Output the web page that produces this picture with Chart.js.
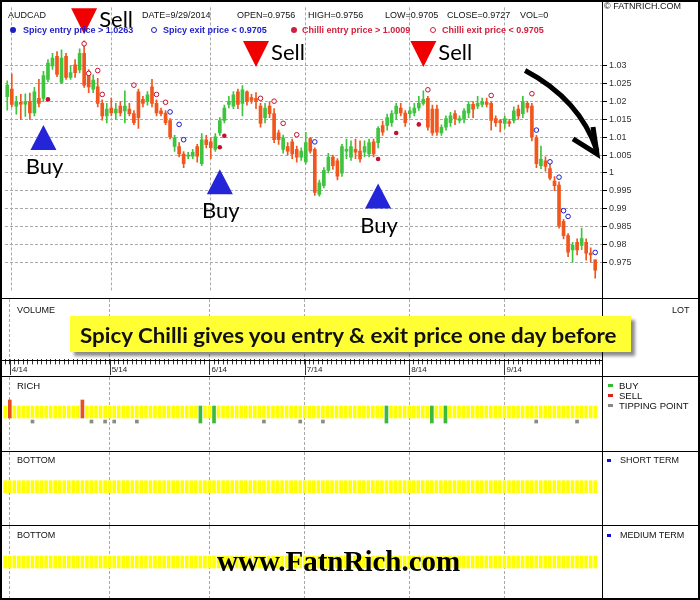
<!DOCTYPE html>
<html>
<head>
<meta charset="utf-8">
<script src="https://cdn.jsdelivr.net/npm/chart.js@4.4.1/dist/chart.umd.min.js"></script>
<style>
  body { margin: 0; background: #fff; }
  #wrap { position: relative; width: 700px; height: 600px; overflow: hidden; background: #fff; font-family: Arial, "Liberation Sans", sans-serif; }
  #wrap canvas { position: absolute; left: 0; }
  .t { position: absolute; white-space: nowrap; line-height: 1; font-size: 9px; color: #111; }
  .lg { font-weight: bold; top: 26px; }
  .ln { position: absolute; background: #000; }
  .sq { position: absolute; width: 5px; height: 3px; }
  .dot { position: absolute; width: 6px; height: 6px; border-radius: 50%; box-sizing: border-box; top: 27px; }
  #callout { position: absolute; left: 70px; top: 316px; width: 561px; height: 36px; background: #ffff33; box-shadow: 4px 4px 3px rgba(0,0,0,0.45); }
  #calloutText { position: absolute; left: 80px; top: 324px; font: bold 21px Lato, "Open Sans", sans-serif; line-height: 1; color: #111; white-space: nowrap; transform-origin: left top; }
  #mark { position: absolute; left: 217px; top: 547px; font: bold 29px "Liberation Serif", "Times New Roman", serif; line-height: 1; color: #000; white-space: nowrap; transform-origin: left top; }
</style>
</head>
<body>
<div id="wrap">
  <canvas id="price" width="700" height="298" style="top:0"></canvas>
  <canvas id="volume" width="700" height="77" style="top:299px"></canvas>
  <canvas id="rich" width="700" height="74" style="top:377px"></canvas>
  <canvas id="bottom1" width="700" height="73" style="top:452px"></canvas>
  <canvas id="bottom2" width="700" height="72" style="top:526px"></canvas>

  <!-- header row -->
  <div class="t" style="left:8px;top:11px">AUDCAD</div>
  <div class="t" id="hDate" style="left:142px;top:11px"></div>
  <div class="t" id="hOpen" style="left:237px;top:11px"></div>
  <div class="t" id="hHigh" style="left:308px;top:11px"></div>
  <div class="t" id="hLow" style="left:385px;top:11px"></div>
  <div class="t" id="hClose" style="left:447px;top:11px"></div>
  <div class="t" style="left:520px;top:11px">VOL=0</div>
  <div class="t" style="left:604px;top:2px">© FATNRICH.COM</div>

  <!-- legend row -->
  <div class="dot" style="left:10px;background:#1c1cc8"></div>
  <div class="t lg" style="left:23px;color:#1c1cc8">Spicy entry price &gt; 1.0263</div>
  <div class="dot" style="left:151px;border:1.3px solid #1c1cc8"></div>
  <div class="t lg" style="left:163px;color:#1c1cc8">Spicy exit price &lt; 0.9705</div>
  <div class="dot" style="left:291px;background:#d0203c"></div>
  <div class="t lg" style="left:302px;color:#d0203c">Chilli entry price &gt; 1.0009</div>
  <div class="dot" style="left:430px;border:1.3px solid #d0203c"></div>
  <div class="t lg" style="left:442px;color:#d0203c">Chilli exit price &lt; 0.9705</div>

  <!-- panel labels -->
  <div class="t" style="left:17px;top:306px">VOLUME</div>
  <div class="t" style="left:672px;top:306px">LOT</div>
  <div class="t" style="left:17px;top:381px;font-size:9.5px">RICH</div>
  <div class="sq" style="left:608px;top:384px;background:#33bb33"></div>
  <div class="t" style="left:619px;top:381px;font-size:9.5px">BUY</div>
  <div class="sq" style="left:608px;top:394px;background:#dd2222"></div>
  <div class="t" style="left:619px;top:391px;font-size:9.5px">SELL</div>
  <div class="sq" style="left:608px;top:404px;background:#888"></div>
  <div class="t" style="left:619px;top:401px;font-size:9.5px">TIPPING POINT</div>
  <div class="t" style="left:17px;top:456px">BOTTOM</div>
  <div class="sq" style="left:607px;top:459px;width:4px;background:#1010d0"></div>
  <div class="t" style="left:620px;top:456px">SHORT TERM</div>
  <div class="t" style="left:17px;top:531px">BOTTOM</div>
  <div class="sq" style="left:607px;top:534px;width:4px;background:#1010d0"></div>
  <div class="t" style="left:620px;top:531px">MEDIUM TERM</div>

  <!-- frame and separators -->
  <div class="ln" style="left:602px;top:0;width:1px;height:600px"></div>
  <div class="ln" style="left:0;top:298px;width:700px;height:1px"></div>
  <div class="ln" style="left:0;top:360px;width:602px;height:1px"></div>
  <div class="ln" style="left:0;top:376px;width:700px;height:1px"></div>
  <div class="ln" style="left:0;top:451px;width:700px;height:1px"></div>
  <div class="ln" style="left:0;top:525px;width:700px;height:1px"></div>
  <div style="position:absolute;left:0;top:0;width:700px;height:600px;border:2px solid #000;box-sizing:border-box"></div>

  <div id="callout"></div>
  <div id="calloutText">Spicy Chilli gives you entry &amp; exit price one day before</div>
  <div id="mark">www.FatnRich.com</div>
</div>

<script>
// daily AUDCAD candles, 31 Mar 2014 .. 29 Sep 2014
const open = [
  1.0214, 1.0235, 1.0187, 1.0198, 1.0193, 1.0200, 1.0168, 1.0209, 1.0209, 1.0262,
  1.0300, 1.0327, 1.0254, 1.0327, 1.0268, 1.0303, 1.0289, 1.0335, 1.0276, 1.0235,
  1.0241, 1.0195, 1.0160, 1.0182, 1.0168, 1.0187, 1.0174, 1.0179, 1.0166, 1.0227,
  1.0206, 1.0200, 1.0241, 1.0195, 1.0174, 1.0168, 1.0147, 1.0074, 1.0074, 1.0053,
  1.0047, 1.0047, 1.0074, 1.0026, 1.0093, 1.0087, 1.0066, 1.0112, 1.0147, 1.0192,
  1.0187, 1.0227, 1.0195, 1.0227, 1.0211, 1.0209, 1.0187, 1.0155, 1.0187, 1.0166,
  1.0112, 1.0066, 1.0074, 1.0087, 1.0066, 1.0044, 1.0031, 1.0096, 1.0066, 0.9940,
  0.9964, 1.0007, 1.0044, 1.0034, 0.9999, 1.0061, 1.0044, 1.0066, 1.0061, 1.0058,
  1.0053, 1.0087, 1.0085, 1.0133, 1.0133, 1.0141, 1.0166, 1.0182, 1.0168, 1.0166,
  1.0168, 1.0182, 1.0195, 1.0209, 1.0179, 1.0179, 1.0112, 1.0128, 1.0141, 1.0166,
  1.0147, 1.0152, 1.0168, 1.0192, 1.0187, 1.0192, 1.0198, 1.0195, 1.0152, 1.0147,
  1.0139, 1.0144, 1.0147, 1.0179, 1.0166, 1.0195, 1.0187, 1.0098, 1.0020, 1.0034,
  1.0012, 0.9977, 0.9966, 0.9864, 0.9824, 0.9784, 0.9805, 0.9797, 0.9805, 0.9775,
  0.9756
];
const high = [
  1.0258, 1.0278, 1.0215, 1.0220, 1.0222, 1.0224, 1.0240, 1.0262, 1.0285, 1.0318,
  1.0335, 1.0340, 1.0345, 1.0335, 1.0300, 1.0318, 1.0348, 1.0370, 1.0290, 1.0275,
  1.0265, 1.0205, 1.0195, 1.0210, 1.0195, 1.0200, 1.0230, 1.0195, 1.0175, 1.0235,
  1.0215, 1.0228, 1.0262, 1.0205, 1.0182, 1.0175, 1.0152, 1.0105, 1.0085, 1.0060,
  1.0058, 1.0066, 1.0080, 1.0110, 1.0105, 1.0098, 1.0110, 1.0155, 1.0190, 1.0215,
  1.0228, 1.0235, 1.0245, 1.0230, 1.0220, 1.0225, 1.0195, 1.0195, 1.0200, 1.0180,
  1.0120, 1.0106, 1.0085, 1.0095, 1.0075, 1.0070, 1.0114, 1.0100, 1.0070, 0.9980,
  1.0015, 1.0055, 1.0050, 1.0040, 1.0080, 1.0095, 1.0090, 1.0095, 1.0090, 1.0090,
  1.0095, 1.0095, 1.0130, 1.0145, 1.0165, 1.0175, 1.0195, 1.0195, 1.0175, 1.0185,
  1.0195, 1.0215, 1.0230, 1.0215, 1.0190, 1.0190, 1.0135, 1.0160, 1.0170, 1.0175,
  1.0160, 1.0180, 1.0200, 1.0200, 1.0215, 1.0210, 1.0210, 1.0200, 1.0160, 1.0150,
  1.0160, 1.0150, 1.0185, 1.0190, 1.0215, 1.0200, 1.0195, 1.0105, 1.0075, 1.0045,
  1.0025, 0.9990, 0.9975, 0.9870, 0.9830, 0.9805, 0.9815, 0.9845, 0.9815, 0.9790,
  0.9756
];
const low = [
  1.0176, 1.0185, 1.0165, 1.0150, 1.0158, 1.0150, 1.0160, 1.0185, 1.0200, 1.0255,
  1.0290, 1.0270, 1.0250, 1.0262, 1.0262, 1.0268, 1.0280, 1.0240, 1.0225, 1.0225,
  1.0185, 1.0148, 1.0140, 1.0160, 1.0150, 1.0160, 1.0140, 1.0160, 1.0135, 1.0125,
  1.0185, 1.0190, 1.0185, 1.0160, 1.0160, 1.0135, 1.0095, 1.0060, 1.0045, 1.0015,
  1.0040, 1.0040, 1.0030, 1.0020, 1.0070, 1.0040, 1.0060, 1.0105, 1.0140, 1.0182,
  1.0180, 1.0180, 1.0160, 1.0190, 1.0195, 1.0180, 1.0128, 1.0140, 1.0155, 1.0085,
  1.0080, 1.0055, 1.0050, 1.0040, 1.0030, 1.0035, 1.0025, 1.0055, 0.9937, 0.9935,
  0.9958, 1.0000, 1.0010, 0.9980, 0.9990, 1.0040, 1.0035, 1.0040, 1.0030, 1.0045,
  1.0045, 1.0045, 1.0070, 1.0105, 1.0120, 1.0130, 1.0150, 1.0160, 1.0130, 1.0155,
  1.0160, 1.0175, 1.0190, 1.0120, 1.0105, 1.0105, 1.0105, 1.0120, 1.0130, 1.0135,
  1.0140, 1.0140, 1.0155, 1.0155, 1.0180, 1.0185, 1.0185, 1.0120, 1.0130, 1.0115,
  1.0125, 1.0130, 1.0140, 1.0150, 1.0155, 1.0170, 1.0090, 1.0015, 1.0012, 1.0005,
  0.9980, 0.9950, 0.9845, 0.9815, 0.9765, 0.9750, 0.9770, 0.9785, 0.9755, 0.9750,
  0.9705
];
const close = [
  1.0246, 1.0192, 1.0200, 1.0193, 1.0200, 1.0168, 1.0227, 1.0195, 1.0273, 1.0308,
  1.0322, 1.0276, 1.0322, 1.0268, 1.0281, 1.0281, 1.0335, 1.0246, 1.0241, 1.0260,
  1.0195, 1.0160, 1.0179, 1.0168, 1.0179, 1.0168, 1.0187, 1.0166, 1.0141, 1.0155,
  1.0195, 1.0219, 1.0195, 1.0168, 1.0166, 1.0141, 1.0101, 1.0098, 1.0053, 1.0026,
  1.0050, 1.0058, 1.0047, 1.0093, 1.0079, 1.0071, 1.0101, 1.0147, 1.0182, 1.0200,
  1.0219, 1.0192, 1.0233, 1.0200, 1.0203, 1.0200, 1.0139, 1.0182, 1.0166, 1.0093,
  1.0093, 1.0098, 1.0061, 1.0053, 1.0044, 1.0061, 1.0085, 1.0061, 0.9945, 0.9972,
  1.0007, 1.0044, 1.0020, 0.9991, 1.0074, 1.0066, 1.0074, 1.0058, 1.0039, 1.0074,
  1.0085, 1.0053, 1.0125, 1.0114, 1.0155, 1.0166, 1.0187, 1.0168, 1.0141, 1.0174,
  1.0182, 1.0195, 1.0206, 1.0128, 1.0112, 1.0114, 1.0128, 1.0152, 1.0160, 1.0152,
  1.0152, 1.0174, 1.0192, 1.0179, 1.0195, 1.0200, 1.0192, 1.0147, 1.0141, 1.0141,
  1.0152, 1.0139, 1.0174, 1.0160, 1.0200, 1.0182, 1.0101, 1.0026, 1.0039, 1.0018,
  0.9985, 0.9964, 0.9851, 0.9824, 0.9778, 0.9797, 0.9784, 0.9816, 0.9775, 0.9770,
  0.9727
];

// indicator dots: [day index, price]
const chilliEntry = [[9, 1.0206], [47, 1.0072], [48, 1.0104], [82, 1.0039], [86, 1.0112], [91, 1.0136]];
const chilliExit = [[17, 1.0362], [18, 1.0279], [20, 1.0287], [21, 1.0220], [28, 1.0246], [33, 1.0220], [35, 1.0198],
  [56, 1.0209], [59, 1.0201], [61, 1.0139], [64, 1.0107], [93, 1.0233], [107, 1.0217], [116, 1.0222]];
const spicyExit = [[36, 1.0171], [38, 1.0136], [39, 1.0093], [68, 1.0087], [117, 1.0120], [120, 1.0031],
  [122, 0.9988], [123, 0.9894], [124, 0.9878], [130, 0.9777]];

// buy / sell calls (day index, price level of the triangle tip)
const sellDays = [17, 55, 92];
const sellLevels = [1.0389, 1.0297, 1.0297];
const buyDays = [8, 47, 82];
const buyLevels = [1.0134, 1.0010, 0.9970];

// RICH panel signals (day index)
const richSell = [1, 17];
const richBuy = [43, 46, 84, 94, 97];
const tippingPoints = [6, 19, 22, 24, 29, 57, 65, 70, 117, 126];

const priceTicks = [0.975, 0.98, 0.985, 0.99, 0.995, 1, 1.005, 1.01, 1.015, 1.02, 1.025, 1.03];

// trading days (weekdays), one extra slot for 30 Sep
const dates = [];
for (let d = new Date(2014, 2, 31); d <= new Date(2014, 8, 30); d.setDate(d.getDate() + 1)) {
  if (d.getDay() !== 0 && d.getDay() !== 6) dates.push((d.getMonth() + 1) + '/' + d.getDate() + '/' + d.getFullYear());
}
const monthStart = dates.map((s, i) => i > 0 && s.split('/')[0] !== dates[i - 1].split('/')[0]);

const UP = '#3fc43f', DOWN = '#f0561e', YELLOW = '#ffff00';
const GRID = '#a9a9a9';
const candleColor = close.map((c, i) => c >= open[i] ? UP : DOWN);
const pts = arr => arr.map(([i, v]) => ({ x: dates[i], y: v }));

// header values of the last bar
const last = close.length - 1;
document.getElementById('hDate').textContent = 'DATE=' + dates[last];
document.getElementById('hOpen').textContent = 'OPEN=' + open[last].toFixed(4);
document.getElementById('hHigh').textContent = 'HIGH=' + high[last].toFixed(4);
document.getElementById('hLow').textContent = 'LOW=' + low[last].toFixed(4);
document.getElementById('hClose').textContent = 'CLOSE=' + close[last].toFixed(4);

const monthGrid = ctx => monthStart[ctx.index] ? GRID : 'rgba(0,0,0,0)';
const xHidden = {
  offset: true,
  ticks: { display: false, autoSkip: false },
  grid: { offset: false, color: monthGrid, drawTicks: false },
  border: { display: false, dash: [3, 2] }
};
const fixWidth = s => { s.width = 98; };

// triangles, Buy/Sell words and the trend arrow
const signalPlugin = {
  id: 'signals',
  afterDatasetsDraw(chart) {
    const { ctx, scales: { x, y } } = chart;
    ctx.save();
    ctx.font = '22px Lato, "Open Sans", sans-serif';
    sellDays.forEach((d, k) => {
      const px = x.getPixelForValue(d), py = y.getPixelForValue(sellLevels[k]);
      ctx.fillStyle = '#f00000';
      ctx.beginPath();
      ctx.moveTo(px - 13, py - 26); ctx.lineTo(px + 13, py - 26); ctx.lineTo(px, py);
      ctx.closePath(); ctx.fill();
      ctx.fillStyle = '#000';
      ctx.textAlign = 'left';
      ctx.fillText('Sell', px + 15, py - 7);
    });
    buyDays.forEach((d, k) => {
      const px = x.getPixelForValue(d), py = y.getPixelForValue(buyLevels[k]);
      ctx.fillStyle = '#2424d8';
      ctx.beginPath();
      ctx.moveTo(px, py); ctx.lineTo(px + 13, py + 25); ctx.lineTo(px - 13, py + 25);
      ctx.closePath(); ctx.fill();
      ctx.fillStyle = '#000';
      ctx.textAlign = 'center';
      ctx.fillText('Buy', px + 1, py + 49);
    });
    // arrow pointing at the September fall
    const a0 = [x.getPixelForValue(114.5), y.getPixelForValue(1.0287)];
    const ac = [x.getPixelForValue(126.6), y.getPixelForValue(1.0206)];
    const a1 = [x.getPixelForValue(130.4), y.getPixelForValue(1.0053)];
    ctx.strokeStyle = '#000';
    ctx.lineWidth = 5;
    ctx.lineJoin = 'miter';
    ctx.beginPath();
    ctx.moveTo(a0[0], a0[1]);
    ctx.quadraticCurveTo(ac[0], ac[1], a1[0], a1[1] - 3);
    ctx.stroke();
    ctx.beginPath();
    ctx.moveTo(a1[0] - 24, a1[1] - 15);
    ctx.lineTo(a1[0], a1[1]);
    ctx.lineTo(a1[0] - 4, a1[1] - 27);
    ctx.stroke();
    ctx.restore();
  }
};

new Chart(document.getElementById('price'), {
  type: 'bar',
  data: {
    labels: dates,
    datasets: [
      { data: low.map((l, i) => [l, high[i]]), backgroundColor: candleColor, barThickness: 1, grouped: false, order: 3 },
      { data: open.map((o, i) => [o, close[i]]), backgroundColor: candleColor, barThickness: 3, grouped: false, minBarLength: 1, order: 2 },
      { type: 'line', data: pts(chilliExit), showLine: false, pointRadius: 2.3, pointBorderWidth: 1,
        pointBackgroundColor: '#fff', pointBorderColor: '#c8102e', order: 1 },
      { type: 'line', data: pts(spicyExit), showLine: false, pointRadius: 2.3, pointBorderWidth: 1,
        pointBackgroundColor: '#fff', pointBorderColor: '#1c1cc8', order: 1 },
      { type: 'line', data: pts(chilliEntry), showLine: false, pointRadius: 2.3, pointBorderWidth: 0,
        pointBackgroundColor: '#c8102e', order: 1 }
    ]
  },
  options: {
    responsive: false,
    animation: false,
    events: [],
    layout: { padding: { left: 3, top: 2 } },
    plugins: { legend: { display: false }, tooltip: { enabled: false } },
    scales: {
      x: xHidden,
      y: {
        position: 'right',
        min: 0.9670,
        max: 1.0464,
        afterBuildTicks: s => { s.ticks = priceTicks.map(v => ({ value: v })); },
        afterFit: fixWidth,
        ticks: { callback: v => String(Number(v.toFixed(3))), font: { family: 'Arial', size: 9 }, color: '#333', padding: 2 },
        grid: { color: GRID, tickColor: '#000', tickLength: 5, tickBorderDash: [] },
        border: { display: false, dash: [3, 2] }
      }
    }
  },
  plugins: [signalPlugin]
});

// volume panel (empty) carrying the date axis
const monthMarks = {
  id: 'monthMarks',
  afterDraw(chart) {
    const { ctx, scales: { x } } = chart;
    ctx.save();
    ctx.strokeStyle = '#333';
    ctx.lineWidth = 1;
    monthStart.forEach((m, i) => {
      if (!m) return;
      const px = Math.round(x.getPixelForValue(i)) + 0.5;
      ctx.beginPath(); ctx.moveTo(px, x.top); ctx.lineTo(px, x.bottom - 1); ctx.stroke();
    });
    ctx.restore();
  }
};

new Chart(document.getElementById('volume'), {
  type: 'bar',
  data: { labels: dates, datasets: [] },
  options: {
    responsive: false, animation: false, events: [],
    layout: { padding: { left: 3 } },
    plugins: { legend: { display: false }, tooltip: { enabled: false } },
    scales: {
      x: {
        offset: true,
        ticks: {
          autoSkip: false, maxRotation: 0, minRotation: 0, align: 'start', labelOffset: 2, padding: 1,
          font: { family: 'Arial', size: 8 }, color: '#222',
          callback: (v, i) => monthStart[i] ? dates[i].split('/')[0] + '/14' : ''
        },
        grid: { offset: false, color: monthGrid, tickColor: '#333', tickLength: 5, tickBorderDash: [] },
        border: { display: false, dash: [3, 2] }
      },
      y: { position: 'right', afterFit: fixWidth, ticks: { display: false }, grid: { display: false }, border: { display: false } }
    }
  },
  plugins: [monthMarks]
});

// RICH panel
const richData = open.map((_, i) => richSell.includes(i) ? [0, 1.5] : richBuy.includes(i) ? [-0.42, 1] : [0, 1]);
const richColor = open.map((_, i) => richSell.includes(i) ? '#e8501e' : richBuy.includes(i) ? '#3cb83c' : YELLOW);

function bandChart(id, datasets, yMin, yMax) {
  return new Chart(document.getElementById(id), {
    type: 'bar',
    data: { labels: dates, datasets },
    options: {
      responsive: false, animation: false, events: [],
      layout: { padding: { left: 3 } },
      plugins: { legend: { display: false }, tooltip: { enabled: false } },
      scales: {
        x: xHidden,
        y: { position: 'right', min: yMin, max: yMax, afterFit: fixWidth,
             ticks: { display: false }, grid: { display: false }, border: { display: false } }
      }
    }
  });
}

bandChart('rich', [
  { data: richData, backgroundColor: richColor, barThickness: 3, grouped: false },
  { data: tippingPoints.map(i => ({ x: dates[i], y: [-0.42, -0.17] })), backgroundColor: '#8a8a8a', barThickness: 3, grouped: false }
], -2.75, 3.417);

// bottom panels: no short / medium term signals in the period, neutral band each day
bandChart('bottom1', [{ data: open.map(() => [0, 1]), backgroundColor: YELLOW, barThickness: 3 }], -2.7, 3.4);
bandChart('bottom2', [{ data: open.map(() => [0, 1]), backgroundColor: YELLOW, barThickness: 3 }], -2.5, 3.5);

// fit the overlay texts to their measured widths
function fitWidth(id, w) {
  const el = document.getElementById(id);
  el.style.transform = 'scaleX(' + (w / el.offsetWidth) + ')';
}
fitWidth('calloutText', 537);
fitWidth('mark', 243);
</script>
</body>
</html>
